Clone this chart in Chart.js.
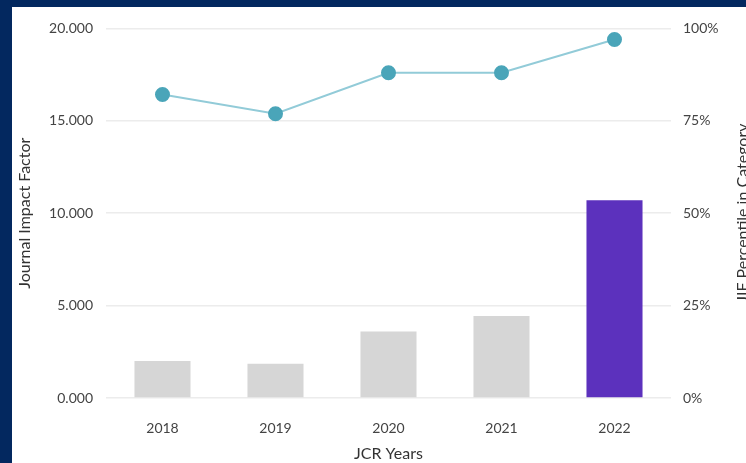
<!DOCTYPE html>
<html>
<head>
<meta charset="utf-8">
<script src="https://cdn.jsdelivr.net/npm/chart.js@4"></script>
<style>
  html, body { margin: 0; padding: 0; }
  body { width: 746px; height: 463px; background: #03285f; overflow: hidden; position: relative; }
  #wrap { position: absolute; left: 12px; top: 7px; width: 734px; height: 456px; background: #fff; }
</style>
</head>
<body>
<div id="wrap"><canvas id="myChart" width="734" height="456"></canvas></div>
<script>
const years = ['2018', '2019', '2020', '2021', '2022'];
const impactFactor = [2.0, 1.86, 3.6, 4.44, 10.7];
const percentile = [82.1, 76.9, 88.0, 88.0, 97.0];
const barColors = ['#d6d6d6', '#d6d6d6', '#d6d6d6', '#d6d6d6', '#5c31bd'];

const fontFamily = 'Lato, "Open Sans", sans-serif';

// right axis title reads bottom-to-top, so draw it by hand
const rightTitle = {
  id: 'rightTitle',
  afterDraw: (chart, args, opts) => {
    const { ctx, chartArea: { top, bottom } } = chart;
    ctx.save();
    ctx.translate(731, (top + bottom) / 2);
    ctx.rotate(-Math.PI / 2);
    ctx.fillStyle = opts.color;
    ctx.font = '16px ' + fontFamily;
    ctx.textAlign = 'center';
    ctx.textBaseline = 'middle';
    ctx.fillText(opts.text, 0, 0);
    ctx.restore();
  }
};

const config = {
  type: 'bar',
  data: {
    labels: years,
    datasets: [
      {
        type: 'line',
        label: 'JIF Percentile',
        data: percentile,
        yAxisID: 'y1',
        borderColor: '#92cbd8',
        borderWidth: 2,
        pointBackgroundColor: '#4aa5b9',
        pointBorderColor: '#4aa5b9',
        pointRadius: 6.5,
        order: 0
      },
      {
        label: 'Journal Impact Factor',
        data: impactFactor,
        yAxisID: 'y',
        backgroundColor: barColors,
        barPercentage: 0.62,
        categoryPercentage: 0.8,
        order: 1
      }
    ]
  },
  options: {
    responsive: false,
    animation: false,
    layout: {
      padding: { top: 14.5, bottom: 0, left: 0, right: 0 }
    },
    scales: {
      x: {
        grid: { display: false },
        border: { display: false },
        ticks: {
          color: '#444',
          padding: 14,
          font: { size: 14, family: fontFamily }
        },
        title: {
          display: true,
          text: 'JCR Years',
          color: '#333',
          padding: { top: 0, bottom: 0 },
          font: { size: 16, family: fontFamily }
        },
        afterFit: (scale) => { scale.height = 65; }
      },
      y: {
        position: 'left',
        min: 0,
        max: 20,
        grid: { color: '#ececec', lineWidth: 1.5, drawTicks: false },
        border: { display: false },
        ticks: {
          stepSize: 5,
          color: '#444',
          padding: 13,
          font: { size: 14, family: fontFamily },
          callback: (v) => v.toFixed(3)
        },
        title: {
          display: true,
          text: 'Journal Impact Factor',
          color: '#333',
          padding: { top: 3, bottom: 0 },
          font: { size: 16, family: fontFamily }
        },
        afterFit: (scale) => { scale.width = 94; }
      },
      y1: {
        position: 'right',
        min: 0,
        max: 100,
        grid: { display: false, drawTicks: false },
        border: { display: false },
        ticks: {
          stepSize: 25,
          color: '#444',
          padding: 12,
          font: { size: 14, family: fontFamily },
          callback: (v) => v + '%'
        },
        afterFit: (scale) => { scale.width = 75; }
      }
    },
    plugins: {
      legend: { display: false },
      tooltip: { enabled: false },
      rightTitle: {
        text: 'JIF Percentile in Category',
        color: '#333'
      }
    }
  },
  plugins: [rightTitle]
};

var myChart = new Chart(document.getElementById('myChart'), config);
</script>
</body>
</html>
